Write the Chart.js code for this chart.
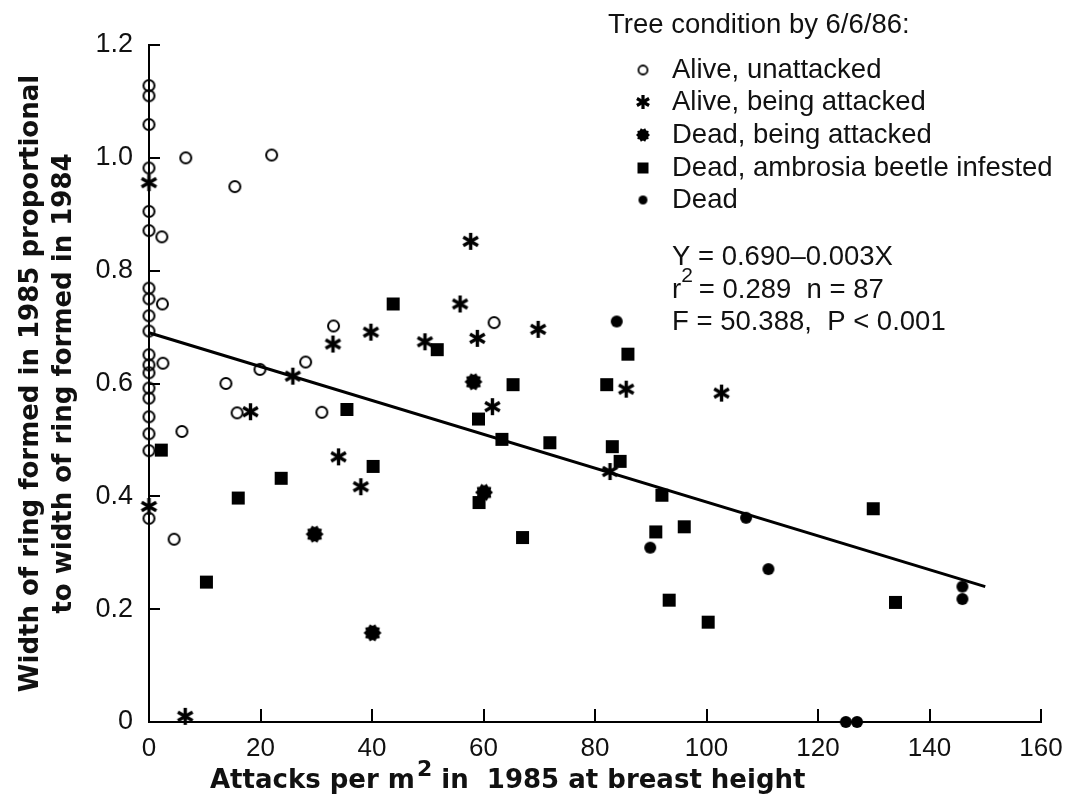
<!DOCTYPE html>
<html>
<head>
<meta charset="utf-8">
<script src="https://cdn.jsdelivr.net/npm/chart.js@4.4.0/dist/chart.umd.min.js"></script>
<style>
  html, body { margin: 0; padding: 0; background: #fff; }
</style>
</head>
<body>
<canvas id="myChart" width="1067" height="804"></canvas>
<script>
// values
var aliveX = [0, 0, 0, 0, 0, 0, 0, 0, 0, 0, 0, 0, 0, 0, 0, 0, 0, 0, 0,
              6.6, 22, 15.4, 2.3, 2.4, 2.5, 19.9, 13.8, 15.8, 5.9, 4.5, 33.1, 61.9, 28.1, 31.0];
var aliveY = [1.128, 1.110, 1.059, 0.982, 0.905, 0.871, 0.769, 0.750, 0.720, 0.693, 0.651, 0.633, 0.619, 0.592, 0.574, 0.541, 0.511, 0.481, 0.361,
              1.0, 1.005, 0.949, 0.86, 0.741, 0.636, 0.625, 0.60, 0.548, 0.515, 0.324, 0.702, 0.708, 0.638, 0.549];

var attackedX = [0, 0, 6.5, 18.2, 25.8, 57.7, 55.8, 39.8, 33.0, 49.5, 58.9, 61.6, 34.0, 38.0, 69.8, 85.6, 102.7, 82.7];
var attackedY = [0.956, 0.382, 0.01, 0.55, 0.613, 0.852, 0.741, 0.691, 0.670, 0.674, 0.680, 0.559, 0.470, 0.417, 0.696, 0.590, 0.583, 0.444];

var deadAttackedX = [58.2, 60.1, 29.7, 40.1];
var deadAttackedY = [0.603, 0.407, 0.333, 0.158];

var ambrosiaX = [2.2, 23.7, 16.0, 10.3, 43.8, 51.7, 65.3, 35.5, 59.1, 63.3, 40.2, 59.2, 67.0, 85.9, 82.1, 71.9, 83.1, 84.5, 92.0, 90.9, 96.0, 93.3, 100.3, 129.9, 133.9];
var ambrosiaY = [0.482, 0.432, 0.397, 0.248, 0.741, 0.660, 0.598, 0.554, 0.537, 0.501, 0.453, 0.389, 0.327, 0.652, 0.598, 0.495, 0.488, 0.462, 0.402, 0.337, 0.346, 0.216, 0.177, 0.378, 0.212];

var deadX = [83.9, 107.1, 89.9, 111.1, 145.9, 145.9, 125, 127];
var deadY = [0.710, 0.362, 0.309, 0.271, 0.240, 0.218, 0, 0];

var fitX = [0, 150];
var fitY = [0.69, 0.24];

var seriesLabels = ['Alive, unattacked', 'Alive, being attacked', 'Dead, being attacked', 'Dead, ambrosia beetle infested', 'Dead'];
var legendTitle = 'Tree condition by 6/6/86:';
var statsLines = ['Y = 0.690\u20130.003X', 'r', ' = 0.289  n = 87', 'F = 50.388,  P < 0.001'];
var xTicks = [0, 20, 40, 60, 80, 100, 120, 140, 160];
var yTicks = [0, 0.2, 0.4, 0.6, 0.8, 1.0, 1.2];

function pts(xs, ys) {
  return xs.map(function (x, i) { return { x: x, y: ys[i] }; });
}

// little canvases used as point styles
function marker(size, draw) {
  var c = document.createElement('canvas');
  c.width = size; c.height = size;
  var g = c.getContext('2d');
  g.translate(size / 2, size / 2);
  g.strokeStyle = '#000';
  g.fillStyle = '#000';
  draw(g);
  return c;
}
function openCircle(r, lw) {
  return marker(Math.ceil(2 * r + 2 * lw + 2), function (g) {
    g.lineWidth = lw;
    g.beginPath(); g.arc(0, 0, r, 0, Math.PI * 2); g.stroke();
  });
}
function asterisk(r, lw) {
  return marker(Math.ceil(2 * r + lw + 2), function (g) {
    g.lineWidth = lw;
    g.lineCap = 'butt';
    [90, 30, -30].forEach(function (a) {
      var t = a * Math.PI / 180;
      g.beginPath();
      g.moveTo(-r * Math.cos(t), -r * Math.sin(t));
      g.lineTo(r * Math.cos(t), r * Math.sin(t));
      g.stroke();
    });
  });
}
function burst(r1, r2) {
  return marker(Math.ceil(2 * r1 + 2), function (g) {
    g.beginPath();
    for (var i = 0; i < 20; i++) {
      var r = i % 2 ? r2 : r1;
      var t = i * Math.PI / 10;
      g.lineTo(r * Math.cos(t), r * Math.sin(t));
    }
    g.closePath(); g.fill();
  });
}
function square(s) {
  return marker(s + 2, function (g) { g.fillRect(-s / 2, -s / 2, s, s); });
}
function dot(r) {
  return marker(Math.ceil(2 * r + 2), function (g) {
    g.beginPath(); g.arc(0, 0, r, 0, Math.PI * 2); g.fill();
  });
}

var styles = [openCircle(5.5, 2), asterisk(8.5, 3.4), burst(9, 7), square(13), dot(6)];
var legendStyles = [openCircle(4.5, 1.8), asterisk(7, 3.2), burst(7, 5.5), square(11), dot(4.5)];

var tickMarks = {
  id: 'tickMarks',
  afterDatasetsDraw: function (chart) {
    var c = chart.ctx, a = chart.chartArea;
    var xs = chart.scales.x, ys = chart.scales.y;
    c.save();
    c.strokeStyle = '#000';
    c.lineWidth = 2;
    yTicks.forEach(function (v) {
      var p = Math.round(ys.getPixelForValue(v));
      c.beginPath(); c.moveTo(a.left, p); c.lineTo(a.left + 11, p); c.stroke();
    });
    xTicks.forEach(function (v) {
      var p = Math.round(xs.getPixelForValue(v));
      c.beginPath(); c.moveTo(p, a.bottom); c.lineTo(p, a.bottom - 13); c.stroke();
    });
    c.restore();
  }
};

var texts = {
  id: 'texts',
  afterDraw: function (chart) {
    var c = chart.ctx;
    var f = '27.5px "Liberation Sans", Arial, sans-serif';
    c.save();
    c.fillStyle = '#111';
    c.textBaseline = 'middle';
    c.textAlign = 'left';
    c.font = f;
    c.fillText(legendTitle, 608, 25);
    var rows = [70, 102, 135, 168, 200];
    seriesLabels.forEach(function (lab, i) {
      var m = legendStyles[i];
      c.drawImage(m, 643 - m.width / 2, rows[i] - m.height / 2);
      c.fillText(lab, 672, rows[i]);
    });

    // regression stats
    c.fillText(statsLines[0], 672, 257);
    c.fillText(statsLines[1], 672, 290);
    var w = c.measureText(statsLines[1]).width;
    c.fillText(statsLines[2], 672 + w + 10, 290);
    c.fillText(statsLines[3], 672, 322);
    c.font = '21px "Liberation Sans", Arial, sans-serif';
    c.fillText('2', 672 + w, 276);

    // x axis title with a raised 2
    c.textBaseline = 'alphabetic';
    c.font = 'bold 26px "DejaVu Sans", sans-serif';
    var x = 210, base = 788;
    var p1 = 'Attacks per m';
    c.fillText(p1, x, base);
    x += c.measureText(p1).width + 2;
    c.font = 'bold 22px "DejaVu Sans", sans-serif';
    c.fillText('2', x, base - 12);
    x += c.measureText('2').width;
    c.font = 'bold 26px "DejaVu Sans", sans-serif';
    c.fillText(' in  1985 at breast height', x, base);
    c.restore();
  }
};

var xTickFont = { family: '"Liberation Sans", Arial, sans-serif', size: 26 };
var yTickFont = { family: '"Liberation Sans", Arial, sans-serif', size: 27 };

var ctx = document.getElementById('myChart').getContext('2d');
var chart = new Chart(ctx, {
  type: 'scatter',
  data: {
    datasets: [
      { label: seriesLabels[0], data: pts(aliveX, aliveY), pointStyle: styles[0] },
      { label: seriesLabels[1], data: pts(attackedX, attackedY), pointStyle: styles[1] },
      { label: seriesLabels[2], data: pts(deadAttackedX, deadAttackedY), pointStyle: styles[2] },
      { label: seriesLabels[3], data: pts(ambrosiaX, ambrosiaY), pointStyle: styles[3] },
      { label: seriesLabels[4], data: pts(deadX, deadY), pointStyle: styles[4] },
      {
        label: 'Regression', data: pts(fitX, fitY), showLine: true,
        borderColor: '#000', borderWidth: 3, pointRadius: 0, pointHoverRadius: 0
      }
    ]
  },
  options: {
    responsive: false,
    animation: false,
    devicePixelRatio: 1,
    clip: false,
    layout: { padding: { top: 45, right: 26, left: 0, bottom: 0 } },
    plugins: {
      legend: { display: false },
      tooltip: { enabled: false }
    },
    scales: {
      x: {
        type: 'linear', min: 0, max: 160,
        afterFit: function (s) { s.height = 82; s.paddingLeft = 0; s.paddingRight = 0; },
        afterBuildTicks: function (s) { s.ticks = xTicks.map(function (v) { return { value: v }; }); },
        ticks: { padding: 11, color: '#111', font: xTickFont },
        grid: { display: false, drawTicks: false },
        border: { display: true, color: '#000', width: 2 }
      },
      y: {
        type: 'linear', min: 0, max: 1.2,
        afterFit: function (s) { s.width = 149; },
        afterBuildTicks: function (s) { s.ticks = yTicks.map(function (v) { return { value: v }; }); },
        ticks: {
          padding: 16, color: '#111', font: yTickFont,
          callback: function (v) { return v === 0 ? '0' : v.toFixed(1); }
        },
        grid: { display: false, drawTicks: false },
        border: { display: true, color: '#000', width: 2 },
        title: {
          display: true,
          text: ['Width of ring formed in 1985 proportional', 'to width of ring formed in 1984'],
          color: '#111',
          font: { family: '"DejaVu Sans", sans-serif', weight: 'bold', size: 26, lineHeight: 1.27 },
          padding: { top: 15, bottom: 0 }
        }
      }
    }
  },
  plugins: [tickMarks, texts]
});
</script>
</body>
</html>
